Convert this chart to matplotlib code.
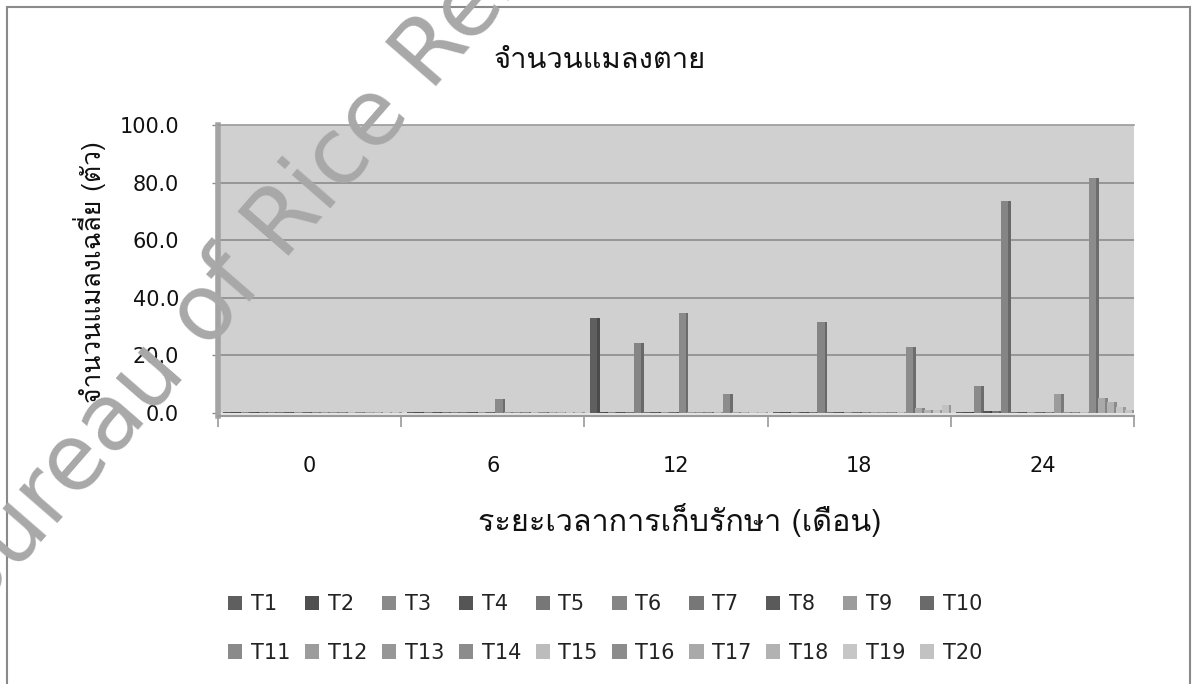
import numpy as np
import matplotlib
matplotlib.use('Agg')
import matplotlib.pyplot as plt
from matplotlib import font_manager
from matplotlib.ft2font import FT2Font
from matplotlib.patches import Rectangle


def thai_family():
    # pick any installed font that really has Thai glyphs
    for f in font_manager.fontManager.ttflist:
        try:
            if FT2Font(f.fname).get_char_index(0x0E08):
                return f.name
        except Exception:
            pass
    return None


th = thai_family()
FAM = ([th] if th else []) + ['DejaVu Sans']

# ─── data (mean dead insects per treatment) ───────────────────────────────
months = ['0', '6', '12', '18', '24']
treatments = ['T%d' % i for i in range(1, 21)]

m0 = [0.3, 0.3, 0.2, 0.3, 0.2, 0.3, 0.2, 0.3, 0.5, 0.2,
      0.2, 0.2, 0.3, 0.2, 0.2, 0.3, 0.2, 0.2, 0.2, 0.2]
m6 = [0.3, 0.3, 0.2, 0.3, 0.2, 0.3, 0.2, 0.3, 0.2, 0.2,
      5.0, 0.2, 0.2, 0.2, 0.2, 0.3, 0.2, 0.2, 0.2, 0.2]
m12 = [33.0, 0.3, 0.3, 0.3, 0.2, 24.3, 0.3, 0.3, 0.5, 0.3,
       34.7, 0.3, 0.3, 0.3, 0.2, 6.6, 0.3, 0.3, 0.2, 0.3]
m18 = [0.3, 0.3, 0.2, 0.3, 0.2, 31.7, 0.3, 0.3, 0.5, 0.5,
       0.5, 0.5, 0.3, 0.5, 0.5, 22.9, 1.8, 1.0, 1.0, 2.9]
m24 = [0.3, 0.3, 9.5, 0.6, 0.6, 73.7, 0.3, 0.3, 0.3, 0.3,
       0.3, 6.6, 0.3, 0.3, 0.3, 81.6, 5.2, 3.9, 2.2, 1.0]

bar_colors = ['#5f5f5f', '#4f4f4f', '#8a8a8a', '#555555', '#777777',
              '#858585', '#777777', '#5a5a5a', '#9c9c9c', '#6a6a6a',
              '#8a8a8a', '#9c9c9c', '#979797', '#8c8c8c', '#bcbcbc',
              '#8c8c8c', '#a9a9a9', '#b2b2b2', '#c6c6c6', '#c2c2c2']

vals = np.array([m0, m6, m12, m18, m24])

# ─── figure ─────────────────────────────────────────────────────────────────
fig = plt.figure(figsize=(11.92, 6.84), dpi=100, facecolor='white')
W, H = 1192.0, 684.0

# chart outline (bottom edge falls outside the picture)
fig.add_artist(Rectangle((7 / W, -0.05), (1190 - 7) / W, 1.05 - 7 / H,
                         transform=fig.transFigure, fill=False,
                         edgecolor='#8a8a8a', linewidth=1.5))

ax = fig.add_axes([218 / W, 1 - 416 / H, (1134 - 218) / W, 291 / H])
ax.set_facecolor('#d0d0d0')
ax.set_xlim(-0.5, 4.5)
ax.set_ylim(-1.04, 100)

# floor strip
ax.axhspan(-1.04, 0, color='#e4e4e4', zorder=1)

for y in [20, 40, 60, 80]:
    ax.axhline(y, color='#8c8c8c', linewidth=1.2, zorder=1)

slot = 0.0484
front = 0.039
side = 0.015
x = np.arange(len(months))
handles = []
for j, name in enumerate(treatments):
    left = x - 0.47 + j * slot
    c = bar_colors[j]
    b = ax.bar(left, vals[:, j], width=front, bottom=0, align='edge',
               color=c, edgecolor='none', zorder=3, label=name)
    rgb = np.array(matplotlib.colors.to_rgb(c)) * 0.78
    ax.bar(left + front, vals[:, j], width=side, bottom=0, align='edge',
           color=rgb, edgecolor='none', zorder=2)
    handles.append(b)

# axes cosmetics
ax.spines['right'].set_visible(False)
ax.spines['top'].set_color('#9a9a9a')
ax.spines['top'].set_linewidth(1.2)
ax.spines['left'].set_color('#a4a4a4')
ax.spines['left'].set_linewidth(4)
ax.spines['bottom'].set_color('#9a9a9a')
ax.spines['bottom'].set_linewidth(1.5)

ax.set_yticks([0, 20, 40, 60, 80, 100])
ax.set_yticklabels(['0.0', '20.0', '40.0', '60.0', '80.0', '100.0'])
ax.tick_params(axis='y', length=4, width=1, color='#8a8a8a', pad=24,
               labelsize=15, labelcolor='#111111')
ax.set_xticks(np.arange(-0.5, 5, 1.0))
ax.set_xticklabels([''] * 6)
ax.tick_params(axis='x', which='major', length=8, width=1.2, color='#9a9a9a')
ax.set_xticks(x, minor=True)
ax.set_xticklabels(months, minor=True)
ax.tick_params(axis='x', which='minor', length=0, pad=29,
               labelsize=15, labelcolor='#111111')

fig.text(680 / W, 1 - 520 / H, 'ระยะเวลาการเก็บรักษา (เดือน)', family=FAM,
         fontsize=22, color='#111111', ha='center', va='center')
fig.text(90 / W, 1 - 272 / H, 'จำนวนแมลงเฉลี่ย (ตัว)', family=FAM,
         fontsize=19, color='#111111', ha='center', va='center', rotation=90)
fig.text(600 / W, 1 - 60 / H, 'จำนวนแมลงตาย', family=FAM, fontsize=21,
         color='#111111', ha='center', va='center')

# legend filled row by row: T1..T10 on top, T11..T20 below
order = [k for col in range(10) for k in (col, col + 10)]
fig.legend(handles=[handles[k] for k in order],
           labels=[treatments[k] for k in order], ncol=10, frameon=False,
           loc='upper left', bbox_to_anchor=(228 / W, 1 - 594 / H),
           borderaxespad=0, borderpad=0, fontsize=15,
           handlelength=0.68, handleheight=0.68, handletextpad=0.42,
           columnspacing=0.7, labelspacing=1.38, labelcolor='#222222')

# watermark across the left half, split at the "R" of "Rice"
ang = 49
fs = 66
px = fs * 100 / 72.0
d = np.radians(ang)
rx, ry = 284.0, 263.0
sp = 0.318 * px
fig.text(rx / W, 1 - ry / H, 'Rice Research Development',
         family='DejaVu Sans', fontsize=fs, color='#a8a8a8',
         rotation=ang, rotation_mode='anchor', ha='left', va='baseline',
         zorder=10)
fig.text((rx - sp * np.cos(d)) / W, 1 - (ry + sp * np.sin(d)) / H,
         'Bureau of', family='DejaVu Sans', fontsize=fs, color='#a8a8a8',
         rotation=ang, rotation_mode='anchor', ha='right', va='baseline',
         zorder=10)

fig.savefig('out.png', dpi=100, facecolor='white')
